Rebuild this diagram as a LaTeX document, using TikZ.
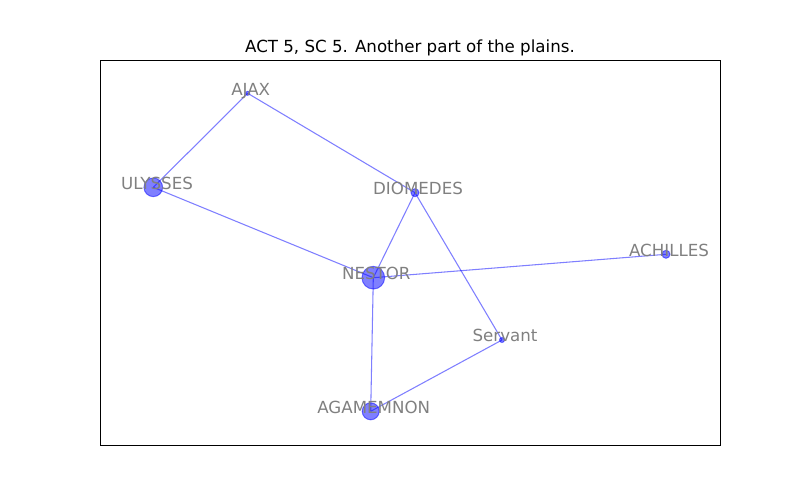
\documentclass[tikz,border=0pt]{standalone}
\usepackage{fontspec}
\setmainfont{DejaVu Sans}
\begin{document}
\begin{tikzpicture}[x=0.75pt,y=-0.75pt,
  vert/.style={circle,inner sep=0pt,fill=blue,fill opacity=0.5,draw=blue,draw opacity=0.5,line width=0.75pt},
  edge/.style={draw=blue,draw opacity=0.5,line width=0.8pt},
  lbl/.style={anchor=base,text=black!50,font=\fontsize{12.5pt}{14pt}\selectfont,inner sep=0pt}]
\useasboundingbox (0,0) rectangle (800,500);
\draw[line width=0.75pt] (100,60) rectangle (720,445);
\node[anchor=base,font=\fontsize{12.5pt}{14pt}\selectfont,inner sep=0pt] (title) at (410,52.7) {ACT 5, SC 5. Another part of the plains.};
% nodes
\node[vert,minimum size=3pt] (ajax) at (247.7,93.3) {};
\node[vert,minimum size=14pt] (ulysses) at (153.3,187.3) {};
\node[vert,minimum size=6pt] (diomedes) at (415,192.7) {};
\node[vert,minimum size=17pt] (nestor) at (373.3,277.7) {};
\node[vert,minimum size=6pt] (achilles) at (666,254.3) {};
\node[vert,minimum size=3.75pt] (servant) at (502,340) {};
\node[vert,minimum size=12.75pt] (agamemnon) at (370.7,411.3) {};
% edges
\draw[edge] (ajax.center) -- (ulysses.center);
\draw[edge] (ajax.center) -- (diomedes.center);
\draw[edge] (ulysses.center) -- (nestor.center);
\draw[edge] (diomedes.center) -- (nestor.center);
\draw[edge] (diomedes.center) -- (servant.center);
\draw[edge] (nestor.center) -- (achilles.center);
\draw[edge] (nestor.center) -- (agamemnon.center);
\draw[edge] (agamemnon.center) -- (servant.center);
% labels
\node[lbl] (lajax) at (250.7,95) {AJAX};
\node[lbl] (lulysses) at (157,189) {ULYSSES};
\node[lbl] (ldiomedes) at (418,194.4) {DIOMEDES};
\node[lbl] (lnestor) at (376.3,279.4) {NESTOR};
\node[lbl] (lachilles) at (669,256) {ACHILLES};
\node[lbl] (lservant) at (505,341.7) {Servant};
\node[lbl] (lagamemnon) at (373.7,413) {AGAMEMNON};
\end{tikzpicture}
\end{document}
